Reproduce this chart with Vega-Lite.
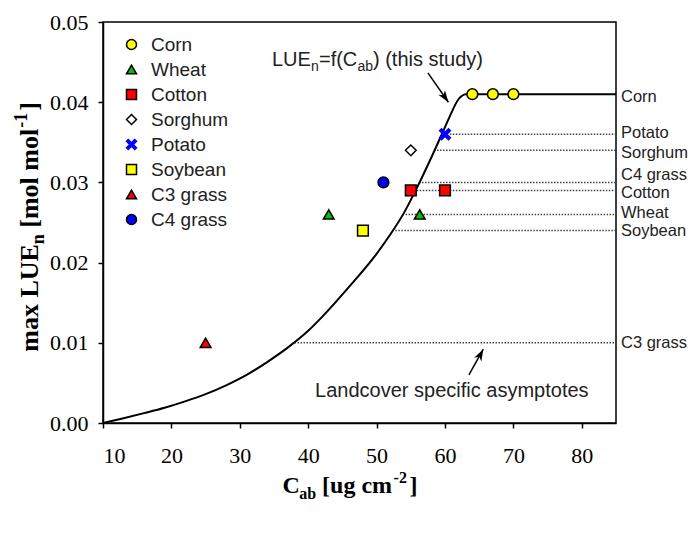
{
  "$schema": "https://vega.github.io/schema/vega-lite/v6.json",
  "width": 513,
  "height": 401,
  "autosize": {"type": "none"},
  "padding": {"left": 103, "top": 22, "right": 77, "bottom": 111},
  "background": "white",
  "config": {
    "view": {"stroke": "black", "strokeWidth": 1.5},
    "axis": {
      "domainColor": "black", "domainWidth": 1.5,
      "tickColor": "black", "tickWidth": 1.5, "tickSize": 5,
      "labelFont": "Liberation Serif", "labelFontSize": 22, "labelColor": "black",
      "grid": false
    },
    "text": {"font": "Liberation Sans"}
  },
  "datasets": {
    "curve": [
      {"cab": 10, "lue": 0.0}, {"cab": 13, "lue": 0.0006}, {"cab": 16, "lue": 0.00123},
      {"cab": 19, "lue": 0.0019}, {"cab": 22, "lue": 0.0027}, {"cab": 25, "lue": 0.0036},
      {"cab": 28, "lue": 0.0047}, {"cab": 31, "lue": 0.0060}, {"cab": 34, "lue": 0.0076},
      {"cab": 37, "lue": 0.0094}, {"cab": 40, "lue": 0.0115}, {"cab": 42, "lue": 0.0132},
      {"cab": 46, "lue": 0.0170}, {"cab": 50, "lue": 0.0211}, {"cab": 52, "lue": 0.0235},
      {"cab": 54, "lue": 0.0262}, {"cab": 56, "lue": 0.0295}, {"cab": 58, "lue": 0.0331},
      {"cab": 60, "lue": 0.0369}, {"cab": 61, "lue": 0.0388}, {"cab": 61.5, "lue": 0.0397},
      {"cab": 62, "lue": 0.0404}, {"cab": 62.5, "lue": 0.0408}, {"cab": 63, "lue": 0.0410},
      {"cab": 85, "lue": 0.0410}
    ],
    "obs": [
      {"crop": "Corn", "cab": 64, "lue": 0.041},
      {"crop": "Corn", "cab": 67, "lue": 0.041},
      {"crop": "Corn", "cab": 70, "lue": 0.041},
      {"crop": "Wheat", "cab": 43, "lue": 0.026},
      {"crop": "Wheat", "cab": 56.3, "lue": 0.026},
      {"crop": "Cotton", "cab": 55, "lue": 0.029},
      {"crop": "Cotton", "cab": 60, "lue": 0.029},
      {"crop": "Sorghum", "cab": 55, "lue": 0.034},
      {"crop": "Potato", "cab": 60, "lue": 0.036},
      {"crop": "Soybean", "cab": 48, "lue": 0.024},
      {"crop": "C3 grass", "cab": 25, "lue": 0.010},
      {"crop": "C4 grass", "cab": 51, "lue": 0.030}
    ],
    "asym": [
      {"name": "Corn", "lue": 0.041, "start": 63},
      {"name": "Potato", "lue": 0.036, "start": 60.7},
      {"name": "Sorghum", "lue": 0.034, "start": 58.4},
      {"name": "C4 grass", "lue": 0.030, "start": 56.2},
      {"name": "Cotton", "lue": 0.029, "start": 55},
      {"name": "Wheat", "lue": 0.026, "start": 53.8},
      {"name": "Soybean", "lue": 0.024, "start": 52.3},
      {"name": "C3 grass", "lue": 0.010, "start": 38.0}
    ],
    "arrows": [
      {"id": "study", "x": 57.5, "y": 0.04365, "tipx": 60.5, "tipy": 0.0400},
      {"id": "asym", "x": 63.5, "y": 0.0060, "tipx": 65.6, "tipy": 0.0092}
    ]
  },
  "layer": [
    {
      "data": {"name": "asym"},
      "transform": [{"filter": "datum.name != 'Corn'"}],
      "mark": {"type": "rule", "strokeDash": [1.5, 1.5], "strokeWidth": 1.5, "color": "#444"},
      "encoding": {
        "x": {"field": "start", "type": "quantitative", "title": null},
        "x2": {"datum": 85},
        "y": {"field": "lue", "type": "quantitative", "title": null}
      }
    },
    {
      "data": {"name": "curve"},
      "mark": {"type": "line", "interpolate": "monotone", "color": "black", "strokeWidth": 2},
      "encoding": {
        "x": {
          "field": "cab", "type": "quantitative", "title": null,
          "scale": {"domain": [10, 85], "nice": false, "zero": false},
          "axis": {"values": [10, 20, 30, 40, 50, 60, 70, 80], "format": "d", "labelPadding": 17, "title": null}
        },
        "y": {
          "field": "lue", "type": "quantitative", "title": null,
          "scale": {"domain": [0, 0.05], "nice": false, "zero": false},
          "axis": {"values": [0, 0.01, 0.02, 0.03, 0.04, 0.05], "format": ".2f", "labelPadding": 10, "title": null}
        }
      }
    },
    {
      "data": {"name": "arrows"},
      "mark": {"type": "rule", "color": "black", "strokeWidth": 1.5},
      "encoding": {
        "x": {"field": "x", "type": "quantitative", "title": null},
        "y": {"field": "y", "type": "quantitative", "title": null},
        "x2": {"field": "tipx"},
        "y2": {"field": "tipy"}
      }
    },
    {
      "data": {"name": "arrows"},
      "transform": [{"filter": "datum.id == 'study'"}],
      "mark": {"type": "point", "filled": true, "color": "black", "opacity": 1, "size": 220, "angle": 145,
               "shape": "M0,0L0.55,1.6L0,1.15L-0.55,1.6Z"},
      "encoding": {
        "x": {"field": "tipx", "type": "quantitative", "title": null},
        "y": {"field": "tipy", "type": "quantitative", "title": null}
      }
    },
    {
      "data": {"name": "arrows"},
      "transform": [{"filter": "datum.id == 'asym'"}],
      "mark": {"type": "point", "filled": true, "color": "black", "opacity": 1, "size": 220, "angle": 28,
               "shape": "M0,0L0.55,1.6L0,1.15L-0.55,1.6Z"},
      "encoding": {
        "x": {"field": "tipx", "type": "quantitative", "title": null},
        "y": {"field": "tipy", "type": "quantitative", "title": null}
      }
    },
    {
      "data": {"name": "obs"},
      "mark": {"type": "point", "filled": true, "size": 115, "strokeWidth": 1.5, "opacity": 1},
      "encoding": {
        "x": {"field": "cab", "type": "quantitative", "title": null},
        "y": {"field": "lue", "type": "quantitative", "title": null},
        "shape": {
          "field": "crop", "type": "nominal", "title": null,
          "scale": {
            "domain": ["Corn", "Wheat", "Cotton", "Sorghum", "Potato", "Soybean", "C3 grass", "C4 grass"],
            "range": ["circle", "triangle-up", "square", "diamond",
                      "M-1,-0.65L-0.65,-1L0,-0.35L0.65,-1L1,-0.65L0.35,0L1,0.65L0.65,1L0,0.35L-0.65,1L-1,0.65L-0.35,0Z",
                      "square", "triangle-up", "circle"]
          },
          "legend": {
            "orient": "none", "legendX": 19, "legendY": 13, "padding": 0,
            "labelFont": "Liberation Sans", "labelFontSize": 19, "labelColor": "#222",
            "rowPadding": 5, "labelOffset": 10, "symbolStrokeWidth": 1.5, "symbolSize": 100
          }
        },
        "fill": {
          "field": "crop", "type": "nominal", "title": null,
          "scale": {
            "domain": ["Corn", "Wheat", "Cotton", "Sorghum", "Potato", "Soybean", "C3 grass", "C4 grass"],
            "range": ["#ffff00", "#00c000", "#ff0000", "#ffffff", "#0000ff", "#ffff00", "#ff0000", "#0000ff"]
          }
        },
        "stroke": {
          "field": "crop", "type": "nominal", "title": null,
          "scale": {
            "domain": ["Corn", "Wheat", "Cotton", "Sorghum", "Potato", "Soybean", "C3 grass", "C4 grass"],
            "range": ["#000000", "#000000", "#000000", "#000000", "#0000ff", "#000000", "#000000", "#000000"]
          }
        }
      }
    },
    {
      "data": {"name": "asym"},
      "transform": [{"filter": "indexof(['Corn', 'Sorghum', 'Cotton'], datum.name) >= 0"}],
      "mark": {"type": "text", "align": "left", "baseline": "middle", "dx": 5, "dy": 2.5, "fontSize": 16.5, "color": "#222"},
      "encoding": {
        "x": {"datum": 85},
        "y": {"field": "lue", "type": "quantitative", "title": null},
        "text": {"field": "name"}
      }
    },
    {
      "data": {"name": "asym"},
      "transform": [{"filter": "indexof(['Potato', 'Wheat'], datum.name) >= 0"}],
      "mark": {"type": "text", "align": "left", "baseline": "middle", "dx": 5, "dy": -1.5, "fontSize": 16.5, "color": "#222"},
      "encoding": {
        "x": {"datum": 85},
        "y": {"field": "lue", "type": "quantitative", "title": null},
        "text": {"field": "name"}
      }
    },
    {
      "data": {"name": "asym"},
      "transform": [{"filter": "indexof(['Soybean', 'C3 grass'], datum.name) >= 0"}],
      "mark": {"type": "text", "align": "left", "baseline": "middle", "dx": 5, "dy": 0.5, "fontSize": 16.5, "color": "#222"},
      "encoding": {
        "x": {"datum": 85},
        "y": {"field": "lue", "type": "quantitative", "title": null},
        "text": {"field": "name"}
      }
    },
    {
      "data": {"name": "asym"},
      "transform": [{"filter": "datum.name == 'C4 grass'"}],
      "mark": {"type": "text", "align": "left", "baseline": "middle", "dx": 5, "dy": -7.5, "fontSize": 16.5, "color": "#222"},
      "encoding": {
        "x": {"datum": 85},
        "y": {"field": "lue", "type": "quantitative", "title": null},
        "text": {"field": "name"}
      }
    },
    {
      "data": {"values": [{}]},
      "mark": {"type": "text", "align": "center", "baseline": "alphabetic", "fontSize": 20, "color": "#222"},
      "encoding": {"x": {"datum": 61.0}, "y": {"datum": 0.00328}, "text": {"value": "Landcover specific asymptotes"}}
    },
    {
      "data": {"values": [{}]},
      "mark": {"type": "text", "align": "left", "baseline": "alphabetic", "fontSize": 20, "color": "#222"},
      "encoding": {"x": {"datum": 34.7}, "y": {"datum": 0.0445}, "text": {"value": "LUE"}}
    },
    {
      "data": {"values": [{}]},
      "mark": {"type": "text", "align": "left", "baseline": "alphabetic", "fontSize": 14, "dx": 39, "dy": 5, "color": "#222"},
      "encoding": {"x": {"datum": 34.7}, "y": {"datum": 0.0445}, "text": {"value": "n"}}
    },
    {
      "data": {"values": [{}]},
      "mark": {"type": "text", "align": "left", "baseline": "alphabetic", "fontSize": 20, "dx": 47, "color": "#222"},
      "encoding": {"x": {"datum": 34.7}, "y": {"datum": 0.0445}, "text": {"value": "=f(C"}}
    },
    {
      "data": {"values": [{}]},
      "mark": {"type": "text", "align": "left", "baseline": "alphabetic", "fontSize": 14, "dx": 85.5, "dy": 5, "color": "#222"},
      "encoding": {"x": {"datum": 34.7}, "y": {"datum": 0.0445}, "text": {"value": "ab"}}
    },
    {
      "data": {"values": [{}]},
      "mark": {"type": "text", "align": "left", "baseline": "alphabetic", "fontSize": 20, "dx": 101, "color": "#222"},
      "encoding": {"x": {"datum": 34.7}, "y": {"datum": 0.0445}, "text": {"value": ") (this study)"}}
    },
    {
      "data": {"values": [{}]},
      "mark": {"type": "text", "align": "left", "baseline": "alphabetic", "font": "Liberation Serif", "fontWeight": "bold", "fontSize": 24, "color": "black"},
      "encoding": {"x": {"datum": 36.25}, "y": {"datum": -0.00872}, "text": {"value": "C"}}
    },
    {
      "data": {"values": [{}]},
      "mark": {"type": "text", "align": "left", "baseline": "alphabetic", "font": "Liberation Serif", "fontWeight": "bold", "fontSize": 16, "dx": 16.6, "dy": 6, "color": "black"},
      "encoding": {"x": {"datum": 36.25}, "y": {"datum": -0.00872}, "text": {"value": "ab"}}
    },
    {
      "data": {"values": [{}]},
      "mark": {"type": "text", "align": "left", "baseline": "alphabetic", "font": "Liberation Serif", "fontWeight": "bold", "fontSize": 24, "dx": 39.5, "color": "black"},
      "encoding": {"x": {"datum": 36.25}, "y": {"datum": -0.00872}, "text": {"value": "[ug cm"}}
    },
    {
      "data": {"values": [{}]},
      "mark": {"type": "text", "align": "left", "baseline": "alphabetic", "font": "Liberation Serif", "fontWeight": "bold", "fontSize": 16, "dx": 111, "dy": -10, "color": "black"},
      "encoding": {"x": {"datum": 36.25}, "y": {"datum": -0.00872}, "text": {"value": "-2"}}
    },
    {
      "data": {"values": [{}]},
      "mark": {"type": "text", "align": "left", "baseline": "alphabetic", "font": "Liberation Serif", "fontWeight": "bold", "fontSize": 24, "dx": 127, "color": "black"},
      "encoding": {"x": {"datum": 36.25}, "y": {"datum": -0.00872}, "text": {"value": "]"}}
    },
    {
      "data": {"values": [{}]},
      "mark": {"type": "text", "align": "left", "baseline": "alphabetic", "angle": 270, "font": "Liberation Serif", "fontWeight": "bold", "fontSize": 26, "color": "black"},
      "encoding": {"x": {"datum": 0.445}, "y": {"datum": 0.00888}, "text": {"value": "max LUE"}}
    },
    {
      "data": {"values": [{}]},
      "mark": {"type": "text", "align": "left", "baseline": "alphabetic", "angle": 270, "font": "Liberation Serif", "fontWeight": "bold", "fontSize": 18, "dx": 107.6, "dy": 6, "color": "black"},
      "encoding": {"x": {"datum": 0.445}, "y": {"datum": 0.00888}, "text": {"value": "n"}}
    },
    {
      "data": {"values": [{}]},
      "mark": {"type": "text", "align": "left", "baseline": "alphabetic", "angle": 270, "font": "Liberation Serif", "fontWeight": "bold", "fontSize": 26, "dx": 124, "color": "black"},
      "encoding": {"x": {"datum": 0.445}, "y": {"datum": 0.00888}, "text": {"value": "[mol mol"}}
    },
    {
      "data": {"values": [{}]},
      "mark": {"type": "text", "align": "left", "baseline": "alphabetic", "angle": 270, "font": "Liberation Serif", "fontWeight": "bold", "fontSize": 18, "dx": 224, "dy": -11, "color": "black"},
      "encoding": {"x": {"datum": 0.445}, "y": {"datum": 0.00888}, "text": {"value": "-1"}}
    },
    {
      "data": {"values": [{}]},
      "mark": {"type": "text", "align": "left", "baseline": "alphabetic", "angle": 270, "font": "Liberation Serif", "fontWeight": "bold", "fontSize": 26, "dx": 241, "color": "black"},
      "encoding": {"x": {"datum": 0.445}, "y": {"datum": 0.00888}, "text": {"value": "]"}}
    }
  ]
}
